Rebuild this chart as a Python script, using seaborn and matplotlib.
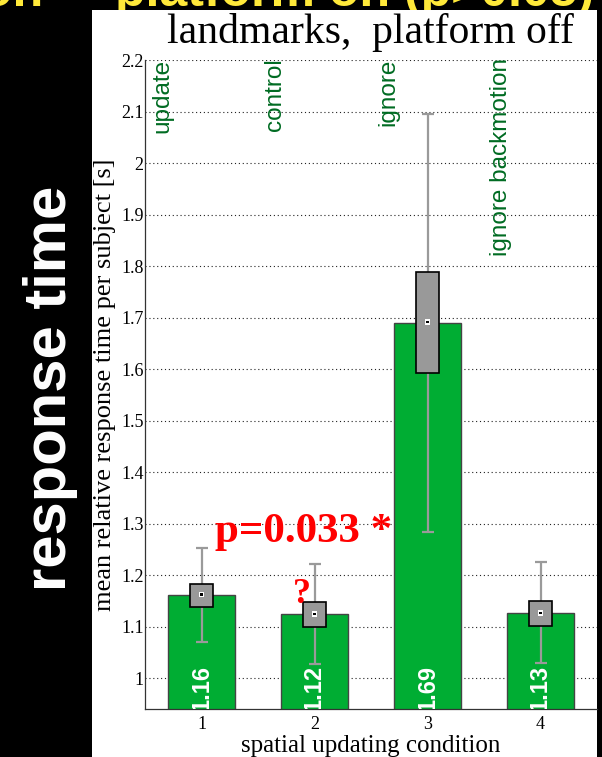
import matplotlib
matplotlib.use("Agg")
import matplotlib.pyplot as plt
from matplotlib.patches import Rectangle
import seaborn as sns
import pandas as pd

# ---- data ----
conditions = ["1", "2", "3", "4"]
condition_names = ["update", "control", "ignore", "ignore backmotion"]
means = [1.161, 1.124, 1.689, 1.126]
mean_labels = ["1.16", "1.12", "1.69", "1.13"]
box_low = [1.138, 1.100, 1.592, 1.102]
box_high = [1.183, 1.148, 1.788, 1.150]
box_mid = [1.162, 1.124, 1.691, 1.126]
whisk_low = [1.071, 1.027, 1.283, 1.029]
whisk_high = [1.253, 1.221, 2.095, 1.225]
yticks = [1.0, 1.1, 1.2, 1.3, 1.4, 1.5, 1.6, 1.7, 1.8, 1.9, 2.0, 2.1, 2.2]
ytick_labels = ["1", "1.1", "1.2", "1.3", "1.4", "1.5", "1.6", "1.7", "1.8", "1.9", "2", "2.1", "2.2"]

sns.set_style("white")
plt.rcParams["font.family"] = ["Liberation Serif", "DejaVu Serif"]

W, H = 602, 757
fig = plt.figure(figsize=(W / 100, H / 100), dpi=100, facecolor="black")

# white panel
fig.patches.append(Rectangle((92 / W, 0), (597 - 92) / W, (H - 10) / H,
                             transform=fig.transFigure, facecolor="white",
                             edgecolor="none", zorder=-0.5))

# yellow header (only its lower part is visible)
yel = "#FFE93A"
fig.text(43 / W, 1 - 6 / H, "on", color=yel, fontsize=36, fontweight="bold",
         family="Liberation Sans", ha="right", va="baseline", zorder=-1)
fig.text(115 / W, 1 - 6 / H, "platform on (p>0.05)", color=yel, fontsize=36,
         fontweight="bold", family="Liberation Sans", ha="left", va="baseline", zorder=-1)

# big side label
fig.text(51 / W, 1 - 388 / H, "response time", color="white", fontsize=43,
         fontweight="bold", family="Liberation Sans", rotation=90,
         ha="center", va="center")

ax = fig.add_axes([145 / W, (H - 709) / H, 452 / W, 649 / H])
ax.set_facecolor("white")

df = pd.DataFrame({"cond": conditions, "mean": means})
sns.barplot(data=df, x="cond", y="mean", order=conditions, color="#00AD33",
            saturation=1, width=0.6, edgecolor="#444444", linewidth=1.0,
            ax=ax, zorder=2)

xs = list(range(len(conditions)))
# whiskers
ax.errorbar(xs, box_mid,
            yerr=[[m - l for m, l in zip(box_mid, whisk_low)],
                  [h - m for m, h in zip(box_mid, whisk_high)]],
            fmt="none", ecolor="#9a9a9a", elinewidth=1.6, capsize=4.5,
            capthick=1.6, zorder=3)
# boxes
ax.bar(xs, [h - l for h, l in zip(box_high, box_low)], bottom=box_low,
       width=0.21, color="#999999", edgecolor="black", linewidth=1.2, zorder=4)
ax.scatter(xs, box_mid, marker="s", s=16, facecolor="white", edgecolor="none", zorder=5)
ax.scatter(xs, box_mid, marker="s", s=3, facecolor="black", edgecolor="none", zorder=6)

# value labels inside bars
for x, lab in zip(xs, mean_labels):
    ax.text(x, 0.937, lab, color="white", fontsize=17, fontweight="bold",
            family="Liberation Sans", rotation=90, ha="center", va="bottom",
            clip_on=True, zorder=5)

# condition names
for x, name in zip(xs, condition_names):
    ax.text(x - 0.35, 2.203, name, color="#006B22", fontsize=17.5,
            family="Liberation Sans", rotation=90, ha="center", va="top", zorder=5)

# annotations
ax.text(0.12, 1.264, "p=0.033 *", color="#FF0000", fontsize=31,
        fontweight="bold", ha="left", va="baseline", zorder=6)
ax.text(0.885, 1.145, "?", color="#FF0000", fontsize=26,
        fontweight="bold", ha="center", va="baseline", zorder=6)

ax.set_xlim(-0.5, 3.5)
ax.set_ylim(0.94, 2.2)
ax.set_yticks(yticks)
ax.set_yticklabels(ytick_labels)
ax.set_xticks(xs)
ax.set_xticklabels(conditions)
ax.set_xlabel("")
ax.set_ylabel("")
ax.tick_params(axis="both", direction="in", length=4, width=0.8,
               labelsize=13, colors="black")
ax.tick_params(axis="y", pad=1)
ax.tick_params(axis="x", pad=5)
ax.yaxis.grid(True, linestyle=(0, (1, 2.5)), color="#222222", linewidth=0.8)
ax.xaxis.grid(False)
ax.set_axisbelow(True)
for s in ["top", "right"]:
    ax.spines[s].set_visible(False)
for s in ["left", "bottom"]:
    ax.spines[s].set_color("#333333")
    ax.spines[s].set_linewidth(0.9)

fig.text(105 / W, 1 - 384.5 / H, "mean relative response time per subject [s]",
         fontsize=19, rotation=90, ha="center", va="center", color="black")
fig.text(371 / W, 1 - 752 / H, "spatial updating condition", fontsize=18,
         ha="center", va="baseline", color="black")
fig.text(370 / W, 1 - 43 / H, "landmarks,  platform off", fontsize=30,
         ha="center", va="baseline", color="black")

fig.savefig("out.png", dpi=100, facecolor=fig.get_facecolor())
